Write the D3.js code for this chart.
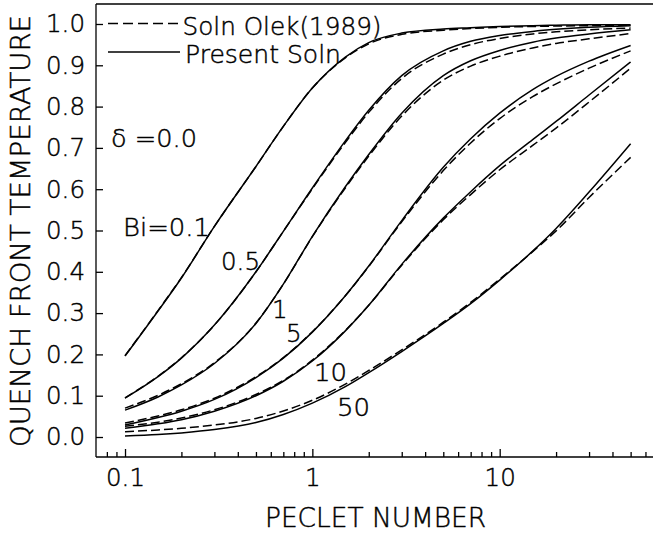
<!DOCTYPE html>
<html><head><meta charset="utf-8">
<script src="https://cdn.jsdelivr.net/npm/d3@7"></script>
<style>
html,body{margin:0;padding:0;background:#fff;}
svg text{font-family:"DejaVu Sans","Liberation Sans",sans-serif;font-weight:200;fill:#000;stroke:#000;stroke-width:0.45px;}
</style></head><body>
<svg id="chart" width="653" height="536"></svg>
<script>
// ---- data ----
const peclet = [0.1,0.15,0.2,0.3,0.5,0.7,1,1.5,2,3,5,7,10,15,20,30,50];
const biotLabels = ["Bi=0.1","0.5","1","5","10","50"];

const presentBi0_1 = [0.196,0.305,0.385,0.51,0.655,0.752,0.845,0.92,0.955,0.978,0.988,0.991,0.994,0.996,0.997,0.998,0.998];
const olekBi0_1    = [0.197,0.306,0.386,0.51,0.655,0.752,0.845,0.918,0.952,0.975,0.985,0.989,0.992,0.994,0.995,0.996,0.997];
const presentBi0_5 = [0.094,0.146,0.191,0.271,0.40,0.498,0.603,0.717,0.791,0.875,0.935,0.958,0.972,0.982,0.987,0.992,0.996];
const olekBi0_5    = [0.095,0.147,0.192,0.271,0.40,0.498,0.601,0.713,0.786,0.868,0.927,0.95,0.965,0.976,0.981,0.986,0.99];
const presentBi1   = [0.065,0.097,0.126,0.178,0.275,0.37,0.486,0.606,0.684,0.784,0.875,0.911,0.936,0.956,0.966,0.976,0.986];
const olekBi1      = [0.07,0.101,0.129,0.18,0.276,0.37,0.485,0.603,0.68,0.777,0.864,0.898,0.922,0.942,0.953,0.964,0.977];
const presentBi5   = [0.029,0.047,0.0625,0.091,0.144,0.191,0.254,0.342,0.414,0.524,0.653,0.722,0.784,0.841,0.873,0.91,0.948];
const olekBi5      = [0.034,0.051,0.066,0.094,0.146,0.192,0.255,0.342,0.413,0.521,0.645,0.712,0.771,0.824,0.855,0.893,0.935];
const presentBi10  = [0.021,0.032,0.042,0.0625,0.100,0.135,0.184,0.257,0.319,0.418,0.53,0.594,0.657,0.72,0.764,0.828,0.908];
const olekBi10     = [0.026,0.036,0.046,0.066,0.103,0.137,0.186,0.258,0.319,0.416,0.526,0.587,0.647,0.706,0.748,0.811,0.893];
const presentBi50  = [0.0024,0.006,0.010,0.018,0.035,0.0545,0.082,0.122,0.156,0.207,0.275,0.323,0.38,0.45,0.505,0.593,0.71];
const olekBi50     = [0.013,0.017,0.021,0.029,0.045,0.063,0.089,0.128,0.161,0.211,0.278,0.326,0.382,0.449,0.499,0.58,0.677];

const yTicks = [0,0.1,0.2,0.3,0.4,0.5,0.6,0.7,0.8,0.9,1.0];
const xMajorTicks = [0.1,1,10];
const xTickLabels = ["0.1","1","10"];
const xMinorTicks = [0.08,0.09,0.2,0.3,0.4,0.5,0.6,0.7,0.8,0.9,2,3,4,5,6,7,8,9,20,30,40,50,60];
const legendLabels = ["Soln Olek(1989)","Present Soln"];

// ---- layout ----
const svg = d3.select("#chart");
const L = 96, T = 4, B = 457;
const x = d3.scaleLog().domain([0.07,70]).range([L,658]);
const y = d3.scaleLinear().domain([-0.0484,1.0484]).range([B,T]);
const FS = 24.5;

// frame
svg.append("line").attr("x1",L).attr("x2",653).attr("y1",T).attr("y2",T)
  .attr("stroke","#000").attr("stroke-width",1.3);

// y axis
const yAx = svg.append("g").attr("transform",`translate(${L},0)`)
  .call(d3.axisLeft(y).tickValues(yTicks).tickSize(-7).tickPadding(11)
        .tickFormat(d=>d.toFixed(1)));
yAx.select(".domain").attr("d",`M0,${T}V${B}`).attr("stroke-width",1.3);
yAx.selectAll(".tick line").attr("stroke-width",1.3);
yAx.selectAll("text").style("font-size",FS+"px").attr("font-family",null);

// x axis major
const xAx = svg.append("g").attr("transform",`translate(0,${B})`)
  .call(d3.axisBottom(x).tickValues(xMajorTicks).tickSize(-8).tickPadding(12)
        .tickFormat((d,i)=>xTickLabels[i]));
xAx.select(".domain").attr("d",`M${L},0H653`).attr("stroke-width",1.3);
xAx.selectAll(".tick line").attr("stroke-width",1.3);
xAx.selectAll("text").style("font-size",FS+"px").attr("font-family",null);
// x axis minor
const xMin = svg.append("g").attr("transform",`translate(0,${B})`)
  .call(d3.axisBottom(x).tickValues(xMinorTicks).tickSize(-5).tickFormat(""));
xMin.select(".domain").remove();
xMin.selectAll(".tick line").attr("stroke-width",1.3);

// axis titles
svg.append("text").attr("transform","translate(30,231) rotate(-90)")
  .attr("text-anchor","middle").style("font-size","26px")
  .attr("textLength",432).attr("lengthAdjust","spacingAndGlyphs")
  .text("QUENCH FRONT TEMPERATURE");
svg.append("text").attr("x",375.5).attr("y",526.5)
  .attr("text-anchor","middle").style("font-size","26px")
  .attr("textLength",221).attr("lengthAdjust","spacingAndGlyphs")
  .text("PECLET NUMBER");

// curves
const line = d3.line().x(d=>x(d[0])).y(d=>y(d[1])).curve(d3.curveMonotoneX);
const presentSeries = [presentBi0_1,presentBi0_5,presentBi1,presentBi5,presentBi10,presentBi50];
const olekSeries = [olekBi0_1,olekBi0_5,olekBi1,olekBi5,olekBi10,olekBi50];
const g = svg.append("g").attr("fill","none").attr("stroke","#000");
presentSeries.forEach(s=>{
  g.append("path").attr("d",line(peclet.map((p,i)=>[p,s[i]]))).attr("stroke-width",1.5);
});
olekSeries.forEach(s=>{
  g.append("path").attr("d",line(peclet.map((p,i)=>[p,s[i]])))
    .attr("stroke-width",1.5).attr("stroke-dasharray","9,4");
});

// legend
svg.append("line").attr("x1",108).attr("x2",180).attr("y1",23.5).attr("y2",23.5)
  .attr("stroke","#000").attr("stroke-width",1.3).attr("stroke-dasharray","10,5");
svg.append("line").attr("x1",108).attr("x2",180).attr("y1",52).attr("y2",52)
  .attr("stroke","#000").attr("stroke-width",1.3);
svg.append("text").attr("x",182.5).attr("y",34.5).style("font-size",FS+"px")
  .attr("textLength",199).attr("lengthAdjust","spacingAndGlyphs").text(legendLabels[0]);
svg.append("text").attr("x",185).attr("y",63).style("font-size",FS+"px")
  .attr("textLength",156).attr("lengthAdjust","spacingAndGlyphs").text(legendLabels[1]);

// annotations
const delta = svg.append("text").attr("x",111).attr("y",146.5).style("font-size",FS+"px")
  .attr("textLength",86).attr("lengthAdjust","spacingAndGlyphs");
delta.append("tspan").text("δ");
delta.append("tspan").text(" =0.0");
const labelPos = [[123,236],[221,270],[272,318],[286,342],[314,381],[337,416]];
const labelLen = [87,null,null,null,33,33];
biotLabels.forEach((t,i)=>{
  const tx = svg.append("text").attr("x",labelPos[i][0]).attr("y",labelPos[i][1])
    .style("font-size",FS+"px").text(t);
  if (labelLen[i]) tx.attr("textLength",labelLen[i]).attr("lengthAdjust","spacingAndGlyphs");
});
</script>
</body></html>
